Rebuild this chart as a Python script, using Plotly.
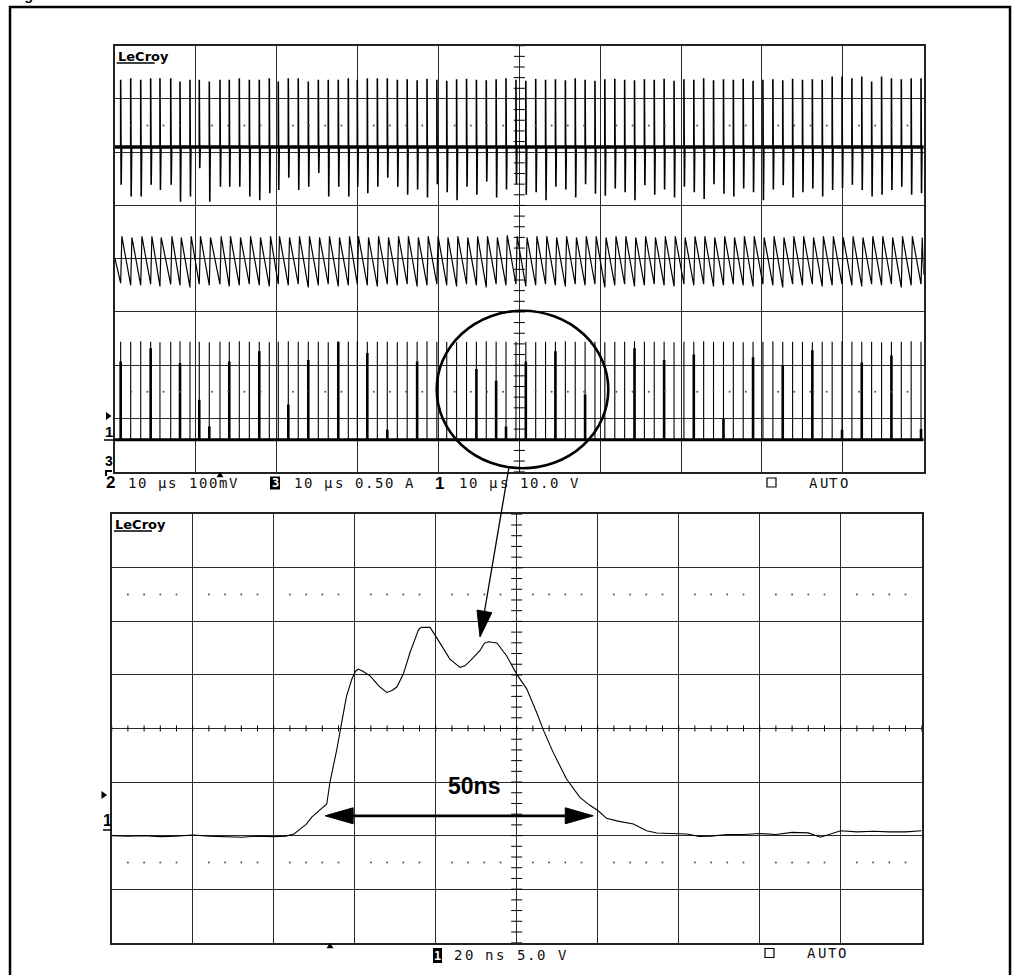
import plotly.graph_objects as go

W, H = 1014, 975

# ---------------- data ----------------
# top screen: 10 us/div, spike (switching event) times in microseconds
spike_t_us = [-49.30, -48.06, -46.82, -45.59, -44.44, -43.11, -41.96, -40.73, -39.58, -38.34,
              -37.02, -35.87, -34.63, -33.39, -32.16, -30.92, -29.81, -28.57, -27.34, -26.10,
              -24.86, -23.63, -22.39, -21.15, -20.04, -18.80, -17.56, -16.33, -15.09, -13.87,
              -12.64, -11.42, -10.20, -8.98, -7.76, -6.53, -5.31, -4.09, -2.87, -1.65,
              -0.42, 0.80, 2.02, 3.24, 4.46, 5.69, 6.91, 8.13, 9.35, 10.57,
              11.80, 13.02, 14.24, 15.46, 16.68, 17.90, 19.13, 20.35, 21.57, 22.79,
              24.01, 25.24, 26.46, 27.68, 28.90, 30.12, 31.35, 32.57, 33.79, 35.01,
              36.23, 37.45, 38.68, 39.90, 41.12, 42.34, 43.56, 44.79, 46.01, 47.23,
              48.45, 49.67]

# channel 2 (100 mV/div): positive and negative spike excursions, mV
ch2_up_mV = [126, 129, 126, 129, 129, 129, 123, 126, 126, 123,
             126, 126, 129, 126, 126, 129, 123, 129, 129, 123,
             126, 126, 126, 129, 126, 129, 129, 129, 126, 127,
             125, 128, 126, 124, 127, 128, 126, 125, 127, 129,
             126, 124, 128, 126, 127, 125, 129, 126, 124, 127,
             128, 126, 125, 127, 126, 128, 124, 127, 126, 129,
             125, 127, 126, 128, 124, 126, 127, 125, 128, 126,
             127, 126, 132, 132, 129, 132, 123, 132, 129, 127,
             129, 129]
ch2_dn_mV = [-71, -93, -93, -71, -81, -71, -103, -93, -40, -103,
             -75, -75, -75, -93, -100, -87, -81, -58, -81, -75,
             -49, -93, -75, -93, -75, -87, -75, -58, -75, -90,
             -80, -95, -70, -85, -100, -75, -90, -65, -95, -80,
             -70, -90, -85, -100, -75, -80, -95, -70, -88, -92,
             -78, -85, -100, -72, -90, -80, -95, -75, -85, -98,
             -70, -88, -93, -78, -85, -100, -80, -72, -95, -85,
             -78, -93, -81, -77, -71, -81, -93, -90, -81, -75,
             -90, -87]

# channel 3 (0.50 A/div): sawtooth peak and valley per cycle, A
ch3_peak_A = [0.21, 0.20, 0.21, 0.21, 0.20, 0.21, 0.20, 0.21, 0.21, 0.20,
              0.21, 0.21, 0.20, 0.21, 0.20, 0.21, 0.21, 0.20, 0.21, 0.21,
              0.20, 0.21, 0.20, 0.21, 0.21, 0.20, 0.21, 0.20, 0.21, 0.21,
              0.20, 0.21, 0.21, 0.20, 0.21, 0.20, 0.21, 0.21, 0.20, 0.22,
              0.21, 0.20, 0.21, 0.21, 0.20, 0.21, 0.20, 0.21, 0.21, 0.20,
              0.21, 0.21, 0.20, 0.21, 0.20, 0.21, 0.21, 0.20, 0.21, 0.21,
              0.20, 0.21, 0.20, 0.21, 0.21, 0.20, 0.21, 0.20, 0.21, 0.21,
              0.20, 0.21, 0.21, 0.20, 0.21, 0.20, 0.21, 0.21, 0.20, 0.21,
              0.21, 0.20]
ch3_valley_A = [-0.23, -0.25, -0.25, -0.24, -0.26, -0.24, -0.25, -0.27, -0.24, -0.25,
                -0.24, -0.26, -0.25, -0.24, -0.25, -0.26, -0.24, -0.25, -0.24, -0.27,
                -0.25, -0.24, -0.26, -0.25, -0.24, -0.25, -0.26, -0.24, -0.25, -0.24,
                -0.26, -0.25, -0.24, -0.25, -0.26, -0.24, -0.25, -0.27, -0.24, -0.25,
                -0.24, -0.26, -0.25, -0.24, -0.25, -0.26, -0.24, -0.25, -0.24, -0.27,
                -0.25, -0.24, -0.26, -0.25, -0.24, -0.25, -0.26, -0.24, -0.25, -0.24,
                -0.26, -0.25, -0.24, -0.25, -0.26, -0.24, -0.25, -0.27, -0.24, -0.25,
                -0.24, -0.26, -0.25, -0.24, -0.25, -0.26, -0.24, -0.25, -0.24, -0.27,
                -0.25, -0.24]
ch3_start_A = 0.0
ch3_end_A = -0.15

# channel 1 (10 V/div): full pulse amplitude per event and the partly sampled amplitude, V
ch1_peak_V = [18.4, 18.4, 18.5, 18.4, 18.3, 18.4, 18.5, 18.4, 18.4, 18.3,
              18.4, 18.4, 18.5, 18.4, 18.4, 18.3, 18.4, 18.5, 18.4, 18.4,
              18.4, 18.3, 18.4, 18.4, 18.5, 18.4, 18.4, 18.4, 18.3, 18.4,
              18.4, 18.5, 18.4, 18.4, 18.3, 18.4, 18.4, 18.5, 18.4, 18.4,
              18.4, 18.4, 18.3, 18.4, 18.4, 18.5, 18.4, 18.4, 18.4, 18.3,
              18.4, 18.4, 18.5, 18.4, 18.4, 18.4, 18.3, 18.4, 18.4, 18.5,
              18.4, 18.4, 18.4, 18.3, 18.4, 18.4, 18.5, 18.4, 18.4, 18.4,
              18.3, 18.4, 18.4, 18.5, 18.4, 18.4, 18.4, 18.3, 18.4, 18.4,
              18.5, 18.4]
ch1_sampled_V = [14.7, None, None, 17.2, None, None, 14.4, None, 7.5, 2.5,
                 None, 14.7, None, None, 16.6, None, None, 6.6, None, 15.0,
                 None, None, 18.4, None, None, 16.3, None, 1.9, None, None,
                 14.7, None, None, None, None, None, 13.3, None, 11.1, 2.5,
                 None, 14.7, None, None, 16.6, None, None, 8.5, None, None,
                 None, None, 17.2, None, None, 15.0, None, None, 16.0, None,
                 None, 4.0, None, None, 15.5, None, None, 14.0, None, None,
                 16.8, None, None, 1.9, None, 14.5, None, None, 15.8, None,
                 None, 2.0]

# bottom screen: channel 1 zoomed, 20 ns/div, 5 V/div
pulse_t_ns = [-100, -96, -92, -88, -84, -80, -76, -72, -68, -64,
              -60, -57, -55, -53.5, -52, -50.6, -49, -48.1, -46.9, -46.1,
              -45.2, -44.4, -43.2, -42.0, -40.7, -39.8, -39.1, -38, -36.2, -34,
              -32.1, -30.8, -29.6, -28.0, -26.3, -25.1, -24.2, -23.5, -21.4, -19.8,
              -18, -16.5, -14.0, -12.8, -11.5, -9.1, -8, -7.0, -4.9, -2.5,
              0, 2.5, 4.9, 6.6, 9.0, 12.3, 15.6, 18, 20.1, 22.2,
              25, 28.8, 32.1, 34.6, 38, 42, 45, 48, 52, 56,
              60, 64, 68, 72, 75, 78, 80, 84, 88, 92,
              96, 100]
pulse_V = [-0.05, -0.1, -0.05, -0.15, -0.1, 0.0, -0.1, -0.15, -0.2, -0.1,
           -0.15, -0.1, 0.1, 0.56, 1.0, 1.68, 2.2, 2.43, 2.9, 4.95,
           6.5, 8.03, 10.55, 13.0, 14.57, 15.3, 15.5, 15.3, 14.87, 13.9,
           13.32, 13.5, 13.82, 15.03, 17.09, 18.3, 19.2, 19.39, 19.39, 18.46,
           17.4, 16.43, 15.66, 15.8, 16.27, 17.21, 17.9, 18.05, 17.93, 16.74,
           15.03, 13.63, 11.46, 9.8, 7.72, 5.23, 3.52, 2.8, 2.27, 1.56,
           1.3, 1.03, 0.4, 0.19, 0.15, 0.1, -0.12, -0.1, 0.05, 0.05,
           0.15, 0.05, 0.25, 0.2, -0.2, 0.2, 0.4, 0.3, 0.35, 0.3,
           0.3, 0.4]

arrow_t_ns = [-47.3, 18.9]   # extent of the marked pulse width
arrow_V = 1.8
arrow_label = "50ns"

top_labels = ["10 µs 100mV", "10 µs 0.50 A", "10 µs 10.0 V"]
bot_label = "20 ns 5.0 V"

# ---------------- geometry (pixels) ----------------
TOP = dict(x0=115.0, x1=923.7, y0=45.7, y1=471.7)
BOT = dict(x0=111.7, x1=921.7, y0=514.3, y1=942.7)

CH1 = dict(scale=10.0, offset=-3.40)
CH2 = dict(scale=100.0, offset=2.10)
CH3 = dict(scale=0.5, offset=0.0)
BCH1 = dict(scale=5.0, offset=-1.99)


def px(x):
    return x / W


def py(y):
    return 1 - y / H


def div(v, ch):
    return None if v is None else v / ch["scale"] + ch["offset"]


fig = go.Figure()

# ---- channel 2 ----
xs, ys = [-50.0], [div(0, CH2)]
for t, u, d in zip(spike_t_us, ch2_up_mV, ch2_dn_mV):
    xs += [t, t, t + 0.06, t + 0.12]
    ys += [div(0, CH2), div(u, CH2), div(d, CH2), div(0, CH2)]
xs.append(50.0)
ys.append(div(0, CH2))
fig.add_trace(go.Scatter(x=[-50, 50], y=[div(0, CH2)] * 2, mode="lines",
                         line=dict(color="black", width=3.5), xaxis="x", yaxis="y"))
fig.add_trace(go.Scatter(x=xs, y=ys, mode="lines", line=dict(color="black", width=1.6),
                         xaxis="x", yaxis="y"))

# ---- channel 3 ----
xs, ys = [-50.0], [div(ch3_start_A, CH3)]
for t, p, v in zip(spike_t_us, ch3_peak_A, ch3_valley_A):
    xs += [t, t + 0.15]
    ys += [div(v, CH3), div(p, CH3)]
xs.append(50.0)
ys.append(div(ch3_end_A, CH3))
fig.add_trace(go.Scatter(x=xs, y=ys, mode="lines", line=dict(color="black", width=1.2),
                         xaxis="x", yaxis="y"))

# ---- channel 1 ----
fig.add_trace(go.Scatter(x=[-50, 50], y=[div(0, CH1)] * 2, mode="lines",
                         line=dict(color="black", width=3), xaxis="x", yaxis="y"))
xs, ys = [], []
for t, p in zip(spike_t_us, ch1_peak_V):
    xs += [t, t, None]
    ys += [div(0, CH1), div(p, CH1), None]
fig.add_trace(go.Scatter(x=xs, y=ys, mode="lines", line=dict(color="black", width=1.1),
                         xaxis="x", yaxis="y"))
xs, ys = [], []
for t, s in zip(spike_t_us, ch1_sampled_V):
    if s is None:
        continue
    xs += [t, t, None]
    ys += [div(0, CH1), div(s, CH1), None]
fig.add_trace(go.Scatter(x=xs, y=ys, mode="lines", line=dict(color="black", width=2.6),
                         xaxis="x", yaxis="y"))

# ---- bottom pulse ----
fig.add_trace(go.Scatter(x=pulse_t_ns, y=[div(v, BCH1) for v in pulse_V], mode="lines",
                         line=dict(color="black", width=1.1), xaxis="x2", yaxis="y2"))


# ---- graticule decorations (center axis ticks, dotted rows) ----
def graticule(xa, ya, xspan, g):
    xdiv = xspan / 10.0
    pxdiv_x = (g["x1"] - g["x0"]) / 10.0
    pxdiv_y = (g["y1"] - g["y0"]) / 8.0
    half_w = 5.5 / pxdiv_x * xdiv
    tx, ty = [], []
    for i in range(-20, 21):
        yy = i * 0.2
        tx += [-half_w, half_w, None]
        ty += [yy, yy, None]
    fig.add_trace(go.Scatter(x=tx, y=ty, mode="lines", line=dict(color="black", width=1),
                             xaxis=xa, yaxis=ya))
    dx, dy = [], []
    for row in (-2.5, 2.5):
        for i in range(-25, 25):
            if i % 5 == 0:
                continue
            dx.append(i * 0.2 * xdiv)
            dy.append(row)
    fig.add_trace(go.Scatter(x=dx, y=dy, mode="markers",
                             marker=dict(color="#555", size=2, line=dict(width=0)),
                             xaxis=xa, yaxis=ya))
    return pxdiv_y


graticule("x", "y", 100.0, TOP)
pyd = graticule("x2", "y2", 200.0, BOT)
# horizontal center axis ticks on the bottom screen
half_h = 3.0 / pyd
tx, ty = [], []
for i in range(-25, 26):
    xx = i * 0.2 * 20.0
    tx += [xx, xx, None]
    ty += [-half_h, half_h, None]
fig.add_trace(go.Scatter(x=tx, y=ty, mode="lines", line=dict(color="black", width=1),
                         xaxis="x2", yaxis="y2"))

shapes = []
annotations = []

# ---- 50 ns arrow (data coords on bottom screen) ----
ay = div(arrow_V, BCH1)
ppx = (BOT["x1"] - BOT["x0"]) / 200.0   # px per ns
ppy = (BOT["y1"] - BOT["y0"]) / 8.0     # px per div
head_len = 28 / ppx
head_h = 8 / ppy
shapes.append(dict(type="line", xref="x2", yref="y2", x0=arrow_t_ns[0] + head_len, x1=arrow_t_ns[1] - head_len,
                   y0=ay, y1=ay, line=dict(color="black", width=2.8)))
for tip, sgn in ((arrow_t_ns[0], 1), (arrow_t_ns[1], -1)):
    b = tip + sgn * head_len
    shapes.append(dict(type="path", xref="x2", yref="y2",
                       path=f"M {tip} {ay} L {b} {ay + head_h} L {b} {ay - head_h} Z",
                       fillcolor="black", line=dict(color="black", width=1)))
annotations.append(dict(text=f"<b>{arrow_label}</b>", xref="x2", yref="y2", x=-10.5, y=ay + 0.55,
                        showarrow=False, font=dict(family="Liberation Sans, Arial", size=23, color="black"),
                        xanchor="center", yanchor="middle"))

# ---- circle and pointer (pixel space) ----
shapes.append(dict(type="circle", xref="paper", yref="paper", x0=px(436.7), x1=px(608.3),
                   y0=py(468.3), y1=py(310.7), line=dict(color="black", width=2.6)))
shapes.append(dict(type="line", xref="paper", yref="paper", x0=px(509), y0=py(467), x1=px(484.4), y1=py(612),
                   line=dict(color="black", width=1.3)))
shapes.append(dict(type="path", xref="paper", yref="paper",
                   path=f"M {px(480)} {py(637)} L {px(491.8)} {py(612.7)} L {px(477.0)} {py(610.1)} Z",
                   fillcolor="black", line=dict(color="black", width=1)))

# ---- outer frame ----
shapes.append(dict(type="rect", xref="paper", yref="paper", x0=px(10), x1=px(1010), y0=py(990), y1=py(7),
                   line=dict(color="black", width=2.5)))

# ---- LeCroy marks ----
for (lx, ly) in ((116.7, 56.5), (114.0, 524.5)):
    annotations.append(dict(text="<b>LeCroy</b>", xref="paper", yref="paper", x=px(lx - 1), y=py(ly),
                            showarrow=False, xanchor="left", yanchor="middle",
                            font=dict(family="DejaVu Sans", size=13, color="black")))
    shapes.append(dict(type="line", xref="paper", yref="paper", x0=px(lx), x1=px(lx + 38),
                       y0=py(ly + 6.5), y1=py(ly + 6.5), line=dict(color="black", width=1.5)))


# ---- monospaced scope text ----
def mono(s, x_left, y_c, adv=10.15, size=14, color="#111"):
    for i, ch in enumerate(s):
        if ch == " ":
            continue
        annotations.append(dict(text=ch, xref="paper", yref="paper", x=px(x_left + adv * (i + 0.5)), y=py(y_c),
                                showarrow=False, xanchor="center", yanchor="middle",
                                font=dict(family="DejaVu Sans Mono", size=size, color=color)))


def boxed(ch, xc, yc, w=10, h=13):
    shapes.append(dict(type="rect", xref="paper", yref="paper", x0=px(xc - w / 2), x1=px(xc + w / 2),
                       y0=py(yc + h / 2), y1=py(yc - h / 2), fillcolor="black", line=dict(width=0)))
    annotations.append(dict(text=f"<b>{ch}</b>", xref="paper", yref="paper", x=px(xc), y=py(yc),
                            showarrow=False, xanchor="center", yanchor="middle",
                            font=dict(family="DejaVu Sans Mono", size=12, color="white")))


def bold_num(ch, xc, yc, size=17):
    annotations.append(dict(text=f"<b>{ch}</b>", xref="paper", yref="paper", x=px(xc), y=py(yc),
                            showarrow=False, xanchor="center", yanchor="middle",
                            font=dict(family="Liberation Sans, Arial", size=size, color="black")))


def auto_box(x0, y0):
    shapes.append(dict(type="rect", xref="paper", yref="paper", x0=px(x0), x1=px(x0 + 9),
                       y0=py(y0 + 9), y1=py(y0), line=dict(color="black", width=1.2)))


bold_num("2", 110, 482)
mono(top_labels[0], 126.7, 483)
boxed("3", 275, 483)
mono(top_labels[1], 293, 483)
bold_num("1", 439.5, 484)
mono(top_labels[2], 458, 483)
auto_box(767, 478)
mono("AUTO", 808.3, 483)

boxed("1", 437.5, 955.5, w=9, h=15)
mono(bot_label, 453, 955, adv=10.4)
auto_box(765, 948.5)
mono("AUTO", 806.7, 953)


# channel / ground markers on left edges
def tri_right(x, y, s=4):
    shapes.append(dict(type="path", xref="paper", yref="paper",
                       path=f"M {px(x)} {py(y - s)} L {px(x + 1.4 * s)} {py(y)} L {px(x)} {py(y + s)} Z",
                       fillcolor="black", line=dict(width=0)))


def tri_up(x, y, s=4):
    shapes.append(dict(type="path", xref="paper", yref="paper",
                       path=f"M {px(x - s)} {py(y + s * 0.8)} L {px(x)} {py(y - s * 0.8)} L {px(x + s)} {py(y + s * 0.8)} Z",
                       fillcolor="black", line=dict(width=0)))


tri_right(106, 416)
bold_num("1", 109, 431, size=15)
shapes.append(dict(type="line", xref="paper", yref="paper", x0=px(104), x1=px(115), y0=py(440), y1=py(440),
                   line=dict(color="black", width=1.5)))
annotations.append(dict(text="<b>3</b>", xref="paper", yref="paper", x=px(109), y=py(461),
                        showarrow=False, xanchor="center", yanchor="middle",
                        font=dict(family="Liberation Sans, Arial", size=14, color="black")))
shapes.append(dict(type="path", xref="paper", yref="paper",
                   path=f"M {px(106)} {py(476)} L {px(106)} {py(471)} L {px(112)} {py(471)}",
                   line=dict(color="black", width=2)))
tri_up(220, 474.5, 3.5)

tri_right(101.5, 795)
bold_num("1", 107, 820, size=16)
shapes.append(dict(type="line", xref="paper", yref="paper", x0=px(103), x1=px(112), y0=py(830), y1=py(830),
                   line=dict(color="black", width=1.5)))
tri_up(330, 945.5, 3.5)

# fragment of the caption above the frame (only its lowest strokes fall inside the page)
annotations.append(dict(text="<b>Figure</b>", xref="paper", yref="paper", x=px(10), y=py(5),
                        showarrow=False, xanchor="left", yanchor="bottom",
                        font=dict(family="Liberation Sans, Arial", size=14, color="black")))

axis_common = dict(showgrid=True, gridcolor="#2a2a2a", gridwidth=1, zeroline=False, showline=True,
                   linecolor="#222", linewidth=1.5, mirror=True, ticks="", showticklabels=False,
                   fixedrange=True)

fig.update_layout(
    width=W, height=H, margin=dict(l=0, r=0, t=0, b=0),
    paper_bgcolor="white", plot_bgcolor="white", showlegend=False,
    xaxis=dict(domain=[px(TOP["x0"]), px(TOP["x1"])], range=[-50, 50], dtick=10, anchor="y", **axis_common),
    yaxis=dict(domain=[py(TOP["y1"]), py(TOP["y0"])], range=[-4, 4], dtick=1, anchor="x", **axis_common),
    xaxis2=dict(domain=[px(BOT["x0"]), px(BOT["x1"])], range=[-100, 100], dtick=20, anchor="y2", **axis_common),
    yaxis2=dict(domain=[py(BOT["y1"]), py(BOT["y0"])], range=[-4, 4], dtick=1, anchor="x2", **axis_common),
    shapes=shapes, annotations=annotations,
)

# the page is photographed from its top-left corner: drop the default 8px body margin
fig.write_html("out.html", config={"displayModeBar": False},
               post_script="document.body.style.margin='0px';")
